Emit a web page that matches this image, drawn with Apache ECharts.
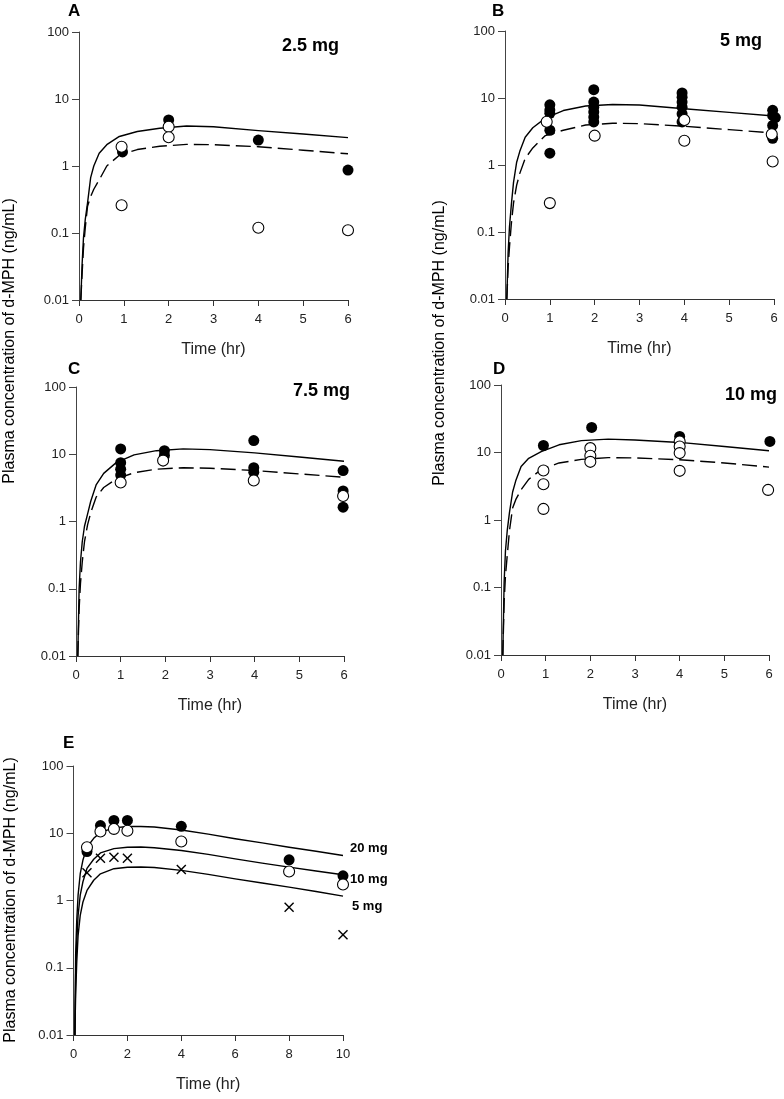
<!DOCTYPE html>
<html>
<head>
<meta charset="utf-8">
<script src="https://cdn.jsdelivr.net/npm/echarts@6/dist/echarts.min.js"></script>
<style>
html,body{margin:0;padding:0;background:#fff;}
#chart{width:784px;height:1099px;}
</style>
</head>
<body>
<div id="chart"></div>
<script>
// ---------- DATA ----------
// Fitted curves, panels A-D (time in hr)
const fitTimeAD = [0.04, 0.07, 0.1, 0.14, 0.19, 0.26, 0.33, 0.45, 0.62, 0.9, 1.3, 1.8, 2.4, 3, 4, 5, 6];
const fitA_solid  = [0.01, 0.035, 0.085, 0.16, 0.28, 0.67, 1.0, 1.55, 2.08, 2.76, 3.27, 3.66, 3.95, 3.85, 3.37, 3.0, 2.65];
const fitA_dashed = [0.01, 0.025, 0.06, 0.12, 0.25, 0.35, 0.45, 0.62, 1.0, 1.45, 1.76, 1.97, 2.1, 2.08, 1.94, 1.72, 1.52];
const fitB_solid  = [0.01, 0.05, 0.12, 0.25, 0.55, 1.1, 1.6, 2.6, 3.6, 5.0, 6.5, 7.6, 8.0, 7.86, 6.9, 6.1, 5.4];
const fitB_dashed = [0.01, 0.03, 0.06, 0.13, 0.27, 0.5, 0.75, 1.25, 1.8, 2.75, 3.3, 3.95, 4.2, 4.14, 3.78, 3.37, 3.0];
const fitC_solid  = [0.01, 0.1, 0.25, 0.5, 0.85, 1.3, 2.0, 3.5, 5.2, 7.5, 9.8, 11.3, 12.0, 11.7, 10.5, 9.1, 7.85];
const fitC_dashed = [0.01, 0.05, 0.12, 0.25, 0.5, 0.9, 1.35, 2.3, 3.2, 4.3, 5.3, 6.0, 6.3, 6.2, 5.72, 5.1, 4.55];
const fitD_solid  = [0.01, 0.12, 0.35, 0.7, 1.3, 2.6, 3.8, 6.2, 8.2, 10.3, 13.0, 15.0, 15.8, 15.3, 14.1, 12.3, 10.6];
const fitD_dashed = [0.01, 0.06, 0.15, 0.3, 0.7, 1.5, 2.0, 2.8, 4.0, 5.6, 7.0, 7.9, 8.4, 8.3, 7.8, 7.0, 6.07];

// Observed points [time, conc]
const obsA_filled = [[0.97,1.62],[2,4.86],[4,2.44],[6,0.87]];
const obsA_open   = [[0.95,1.94],[0.95,0.26],[2,3.86],[2,2.68],[4,0.12],[6,0.11]];
const obsB_filled = [[1,7.9],[1,6.6],[1,5.9],[1,3.3],[1,1.5],[1.98,13.3],[1.98,8.7],[1.98,7.3],[1.98,6.2],[1.98,5.2],[1.98,4.4],
                     [3.95,11.9],[3.95,10.3],[3.95,8.7],[3.95,7.3],[3.95,5.8],[3.95,4.4],[5.97,6.55],[6.03,5.1],[5.97,5.5],[5.97,3.9],[5.97,2.5]];
const obsB_open   = [[0.93,4.43],[1,0.27],[2,2.74],[4,4.7],[4,2.3],[5.95,2.87],[5.97,1.13]];
const obsC_filled = [[1,12.0],[1,7.5],[1,6.0],[1,4.9],[1.98,11.3],[1.98,9.6],[3.98,16.0],[3.98,6.3],[3.98,5.4],[5.98,5.72],[5.98,2.85],[5.98,1.63]];
const obsC_open   = [[1,3.8],[1.95,8.05],[3.98,4.07],[5.98,2.4]];
const obsD_filled = [[0.95,12.7],[2.03,23.5],[4,17.3],[6.02,14.6]];
const obsD_open   = [[0.95,5.4],[0.95,3.39],[0.95,1.46],[2,11.6],[2,8.94],[2,7.27],[4,14.6],[4,12.3],[4,9.8],[4,5.35],[5.98,2.79]];

// Panel E
const fitTimeE = [0.05, 0.08, 0.12, 0.17, 0.25, 0.35, 0.5, 0.75, 1, 1.5, 2, 2.5, 3, 4, 5, 6, 7, 8, 9, 10];
const fitE_5mg  = [0.01, 0.04, 0.12, 0.3, 0.6, 0.95, 1.41, 2.0, 2.49, 2.97, 3.12, 3.15, 3.1, 2.8, 2.45, 2.1, 1.82, 1.58, 1.36, 1.16];
const fitE_10mg = [0.01, 0.08, 0.24, 0.6, 1.2, 1.9, 3.0, 4.1, 5.1, 5.9, 6.2, 6.25, 6.1, 5.54, 4.85, 4.16, 3.6, 3.13, 2.75, 2.41];
const fitE_20mg = [0.01, 0.16, 0.5, 1.2, 2.5, 4.0, 6.2, 8.4, 10.3, 12.0, 12.6, 12.6, 12.4, 11.2, 9.7, 8.28, 7.2, 6.2, 5.4, 4.67];
const obsE_filled = [[0.5,5.35],[1,13.0],[1.5,15.5],[2,15.5],[4,12.7],[8,4.03],[10,2.33]];
const obsE_open   = [[0.5,6.2],[1,10.6],[1.5,11.6],[2,10.9],[4,7.54],[8,2.7],[10,1.73]];
const obsE_cross  = [[0.5,2.58],[1,4.26],[1.5,4.4],[2,4.26],[4,2.89],[8,0.795],[10,0.31]];

const panelLetters = ['A','B','C','D','E'];
const doseLabels = ['2.5 mg','5 mg','7.5 mg','10 mg'];
const doseLabelsE = ['20 mg','10 mg','5 mg'];
const yTitle = 'Plasma concentration of d-MPH (ng/mL)';
const xTitle = 'Time (hr)';

// ---------- CHART ----------
const FONT = '"Liberation Sans", Arial, sans-serif';
const chart = echarts.init(document.getElementById('chart'), null, {renderer:'canvas'});

const grids = [
  {left:79,  top:32,  width:269, height:268},
  {left:505, top:31,  width:269, height:268},
  {left:76,  top:387, width:268, height:269},
  {left:501, top:385, width:268, height:270},
  {left:73.5,top:766, width:269.5, height:269}
].map(g => Object.assign({containLabel:false, outerBoundsMode:'none'}, g));

function xAx(i, max, interval){
  return {type:'value', gridIndex:i, min:0, max:max, interval:interval,
    name:xTitle, nameLocation:'middle', nameGap:42,
    nameTextStyle:{fontSize:16, color:'#222', fontFamily:FONT},
    axisLine:{show:true, onZero:false, lineStyle:{color:'#333', width:1}},
    axisTick:{show:true, length:6, lineStyle:{color:'#333'}},
    axisLabel:{margin:13, fontSize:13, color:'#222', fontFamily:FONT},
    splitLine:{show:false}};
}
function yAx(i){
  return {type:'log', logBase:10, gridIndex:i, min:0.01, max:100, splitNumber:4,
    axisLine:{show:true, onZero:false, lineStyle:{color:'#444', width:1}},
    axisTick:{show:true, length:7, lineStyle:{color:'#444'}},
    axisLabel:{margin:10, fontSize:13, color:'#222', fontFamily:FONT,
      formatter: v => String(+Number(v).toPrecision(2))},
    splitLine:{show:false}};
}

const xAxes = [xAx(0,6,1), xAx(1,6,1), xAx(2,6,1), xAx(3,6,1), xAx(4,10,2)];
const yAxes = [yAx(0), yAx(1), yAx(2), yAx(3), yAx(4)];

function curve(i, times, vals, dashed){
  return {type:'line', xAxisIndex:i, yAxisIndex:i, data: times.map((t,k)=>[t, vals[k]]),
    showSymbol:false, symbol:'none', smooth:false, silent:true, z:2,
    lineStyle:{color:'#000', width:1.4, opacity:1, type: dashed ? [15,6] : 'solid', join:'round'}};
}
function dots(i, data, kind){
  const s = {type:'scatter', xAxisIndex:i, yAxisIndex:i, data:data, clip:false, silent:true, z:3};
  if (kind === 'filled'){ s.symbol='circle'; s.symbolSize=11; s.itemStyle={color:'#000', opacity:1}; }
  else if (kind === 'open'){ s.symbol='circle'; s.symbolSize=11; s.z=4; s.itemStyle={color:'#fff', borderColor:'#000', borderWidth:1.1, opacity:1}; }
  else { s.symbol='path://M0,1 L1,0 L5,4 L9,0 L10,1 L6,5 L10,9 L9,10 L5,6 L1,10 L0,9 L4,5 Z'; s.symbolSize=10; s.itemStyle={color:'#000', opacity:1}; }
  return s;
}

const series = [
  curve(0, fitTimeAD, fitA_solid, false), curve(0, fitTimeAD, fitA_dashed, true),
  curve(1, fitTimeAD, fitB_solid, false), curve(1, fitTimeAD, fitB_dashed, true),
  curve(2, fitTimeAD, fitC_solid, false), curve(2, fitTimeAD, fitC_dashed, true),
  curve(3, fitTimeAD, fitD_solid, false), curve(3, fitTimeAD, fitD_dashed, true),
  curve(4, fitTimeE, fitE_20mg, false), curve(4, fitTimeE, fitE_10mg, false), curve(4, fitTimeE, fitE_5mg, false),
  dots(0, obsA_filled, 'filled'), dots(0, obsA_open, 'open'),
  dots(1, obsB_filled, 'filled'), dots(1, obsB_open, 'open'),
  dots(2, obsC_filled, 'filled'), dots(2, obsC_open, 'open'),
  dots(3, obsD_filled, 'filled'), dots(3, obsD_open, 'open'),
  dots(4, obsE_filled, 'filled'), dots(4, obsE_open, 'open'), dots(4, obsE_cross, 'cross')
];

const letterPos = [[68,3],[492,3],[68,361],[493,361],[63,735]];
const titles = panelLetters.map((L,i)=>({text:L, left:letterPos[i][0], top:letterPos[i][1], padding:0,
  textStyle:{fontSize:17, fontWeight:'bold', color:'#000', fontFamily:FONT}}));

function txt(str, x, y, size, bold, align, rot){
  return {type:'text', x:x, y:y, rotation: rot || 0, silent:true, z:10,
    style:{text:str, x:0, y:0, font:(bold?'bold ':'')+size+'px '+FONT, fill:'#000',
      align:align, textAlign:align, verticalAlign:'middle', textVerticalAlign:'middle'}};
}
const dosePos = [[282,46],[720,41],[293,391],[725,395]];
const graphics = [
  txt(yTitle, 10, 341, 16, false, 'center', Math.PI/2),
  txt(yTitle, 440, 343, 16, false, 'center', Math.PI/2),
  txt(yTitle, 10.5, 900, 16, false, 'center', Math.PI/2)
];
doseLabels.forEach((d,i)=>graphics.push(txt(d, dosePos[i][0], dosePos[i][1], 18, true, 'left')));
const dosePosE = [[350,848],[350,879],[352,906]];
doseLabelsE.forEach((d,i)=>graphics.push(txt(d, dosePosE[i][0], dosePosE[i][1], 13, true, 'left')));

chart.setOption({
  animation:false,
  backgroundColor:'#fff',
  title: titles,
  grid: grids,
  xAxis: xAxes,
  yAxis: yAxes,
  series: series,
  graphic: graphics
});
</script>
</body>
</html>
